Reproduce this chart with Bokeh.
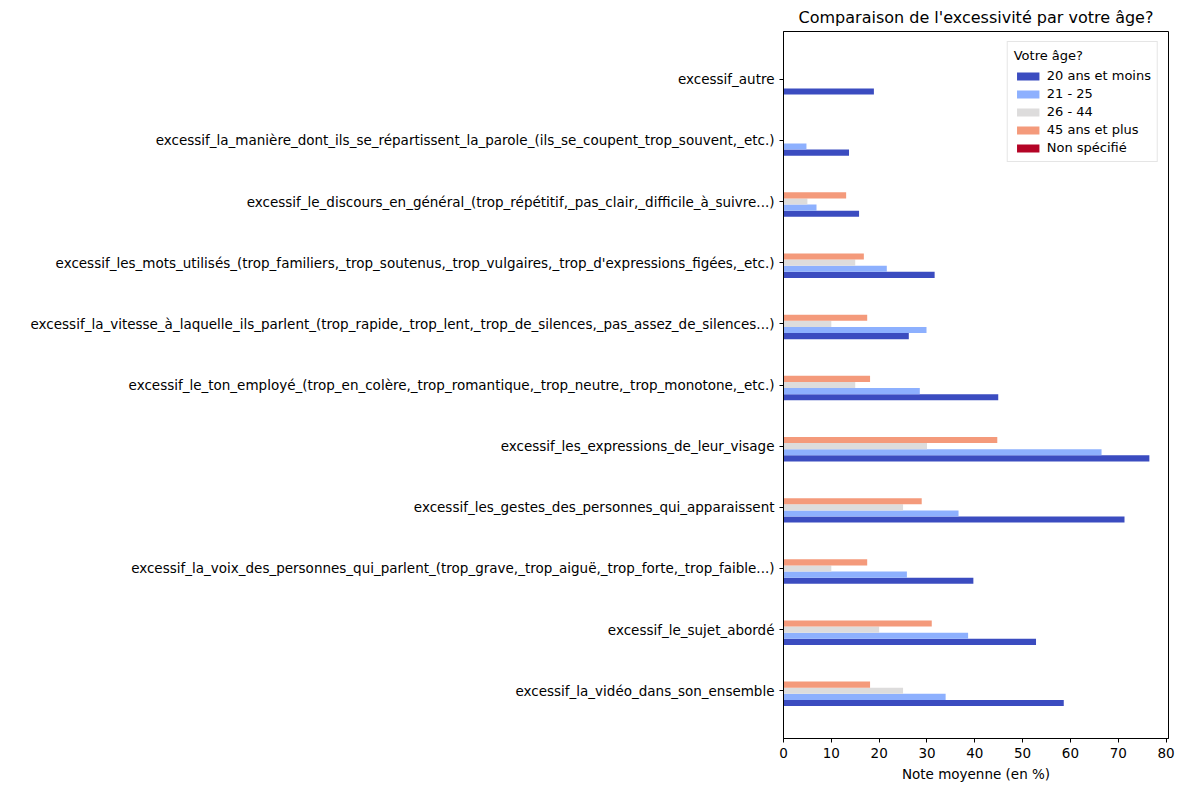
from bokeh.plotting import figure
from bokeh.models import Legend, LegendItem, FixedTicker, Range1d
from bokeh.embed import file_html
from bokeh.resources import INLINE

categories = [
    "excessif_la_vidéo_dans_son_ensemble",
    "excessif_le_sujet_abordé",
    "excessif_la_voix_des_personnes_qui_parlent_(trop_grave,_trop_aiguë,_trop_forte,_trop_faible...)",
    "excessif_les_gestes_des_personnes_qui_apparaissent",
    "excessif_les_expressions_de_leur_visage",
    "excessif_le_ton_employé_(trop_en_colère,_trop_romantique,_trop_neutre,_trop_monotone,_etc.)",
    "excessif_la_vitesse_à_laquelle_ils_parlent_(trop_rapide,_trop_lent,_trop_de_silences,_pas_assez_de_silences...)",
    "excessif_les_mots_utilisés_(trop_familiers,_trop_soutenus,_trop_vulgaires,_trop_d'expressions_figées,_etc.)",
    "excessif_le_discours_en_général_(trop_répétitif,_pas_clair,_difficile_à_suivre...)",
    "excessif_la_manière_dont_ils_se_répartissent_la_parole_(ils_se_coupent_trop_souvent,_etc.)",
    "excessif_autre",
]
series_names = ["20 ans et moins", "21 - 25", "26 - 44", "45 ans et plus", "Non spécifié"]
v_20 = [58.6, 52.8, 39.7, 71.3, 76.5, 44.9, 26.2, 31.6, 15.8, 13.7, 18.9]
v_21 = [33.9, 38.6, 25.8, 36.6, 66.5, 28.5, 29.9, 21.6, 6.9, 4.8, 0]
v_26 = [25.0, 20.0, 10.0, 25.0, 30.0, 15.0, 10.0, 15.0, 5.0, 0, 0]
v_45 = [18.1, 31.0, 17.5, 28.9, 44.7, 18.1, 17.5, 16.8, 13.1, 0, 0]
v_ns = [0] * 11
series = [v_20, v_21, v_26, v_45, v_ns]
colors = ["#3b4cc0", "#8db0fe", "#dddcdc", "#f49a7b", "#b40426"]

p = figure(width=1184, height=784, output_backend="svg", toolbar_location=None,
           title="Comparaison de l'excessivité par votre âge?",
           x_range=Range1d(0, 80.5), y_range=Range1d(-0.78, 10.78),
           min_border_left=783, min_border_right=16, min_border_top=10, min_border_bottom=10)
p.title.align = "center"
p.title.text_font = "DejaVu Sans"
p.title.text_font_size = "16px"
p.title.text_font_style = "normal"
p.title.text_color = "black"
p.grid.visible = False
p.outline_line_color = "black"

items = []
w = 0.1
for i, (name, vals, c) in enumerate(zip(series_names, series, colors)):
    ys = [k + (i - 2) * w for k in range(len(categories))]
    r = p.hbar(y=ys, right=vals, left=0, height=w, color=c, line_color=None)
    items.append(LegendItem(label=name, renderers=[r]))

p.yaxis.ticker = FixedTicker(ticks=list(range(len(categories))))
p.yaxis.major_label_overrides = {k: c for k, c in enumerate(categories)}
p.xaxis.ticker = FixedTicker(ticks=list(range(0, 81, 10)))
p.xaxis.axis_label = "Note moyenne (en %)"
for ax in (p.xaxis, p.yaxis):
    ax.major_label_text_font = "DejaVu Sans"
    ax.major_label_text_font_size = "13.5px"
    ax.major_label_text_color = "black"
    ax.axis_label_text_font = "DejaVu Sans"
    ax.axis_label_text_font_size = "13.5px"
    ax.axis_label_text_font_style = "normal"
    ax.axis_label_text_color = "black"
    ax.axis_line_color = "black"
    ax.major_tick_line_color = "black"
    ax.minor_tick_line_color = None
    ax.major_tick_out = 4
    ax.major_tick_in = 0

leg = Legend(items=items, location="top_right", title="Votre âge?",
             label_text_font="DejaVu Sans", label_text_font_size="13px",
             title_text_font="DejaVu Sans", title_text_font_size="13px",
             title_text_font_style="normal", label_text_color="black", title_text_color="black",
             glyph_height=10, glyph_width=28, spacing=3, padding=6,
             border_line_color="#cccccc", label_height=15)
p.add_layout(leg)

open("out.html", "w").write(file_html(p, INLINE))
